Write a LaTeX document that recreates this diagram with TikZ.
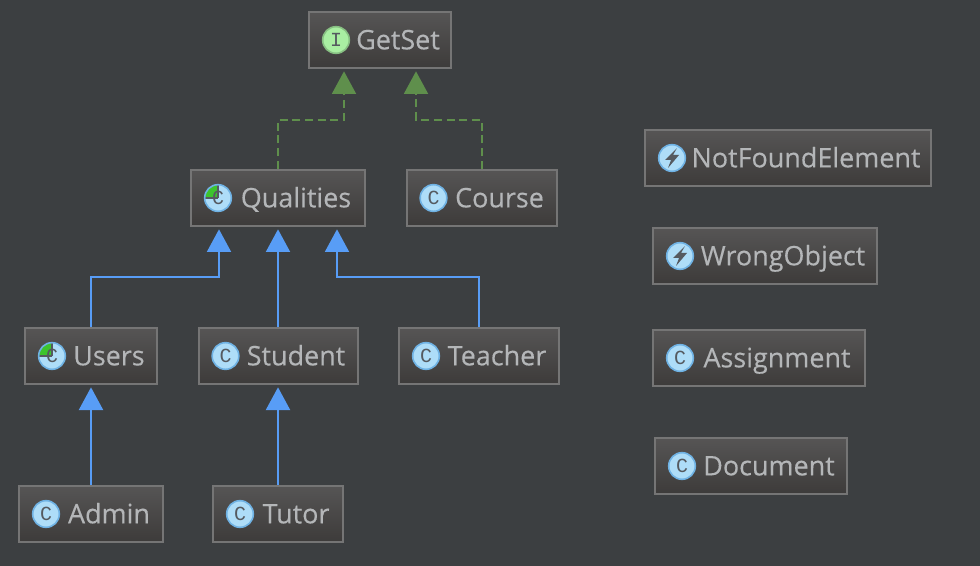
\documentclass[tikz,border=0pt]{standalone}
\usepackage{fontspec}
\setmainfont{Open Sans}
\newfontfamily\boxfont[FakeBold=0.25]{Open Sans}
\newfontfamily\iconfont{Liberation Mono}
\usepackage{xcolor}
\usetikzlibrary{arrows.meta,calc}
\definecolor{ideback}{HTML}{3C3F41}
\definecolor{boxedge}{HTML}{757575}
\definecolor{boxtop}{HTML}{565555}
\definecolor{boxbottom}{HTML}{3D3B3A}
\definecolor{boxtext}{HTML}{B4B6B8}
\definecolor{implgreen}{HTML}{5F8F4C}
\definecolor{extblue}{HTML}{589DF6}
\definecolor{iconblue}{HTML}{AEDDF8}
\definecolor{iconedge}{HTML}{6FB2E4}
\definecolor{icongreen}{HTML}{A9EFA2}
\definecolor{wedgegreen}{HTML}{3DC42D}
\definecolor{icondark}{HTML}{555A60}
\tikzset{
  umlbox/.style={draw=boxedge,line width=1.5pt,top color=boxtop,bottom color=boxbottom,
    text=boxtext,font=\boxfont\fontsize{20.2}{20}\selectfont,minimum height=42.5pt,inner xsep=0pt,
    text height=16.5pt,text depth=2.5pt},
  classicon/.style={circle,draw=iconedge,line width=1.2pt,fill=iconblue,minimum size=20pt,
    inner sep=0pt,text=icondark,font=\iconfont\fontsize{15}{15}\selectfont},
  faceicon/.style={classicon,draw=icongreen!80!black,fill=icongreen},
  abstracticon/.style={classicon,path picture={
    \fill[wedgegreen] (path picture bounding box.center) -- ++(-15,0) -- ++(0,-15) -- ++(15,0) -- cycle;
    \draw[icondark,line width=.8pt] (path picture bounding box.center) -- ++(-15,0);
    \draw[icondark,line width=.8pt] (path picture bounding box.center) -- ++(0,-15);}},
  erroricon/.style={classicon,path picture={
    \fill[icondark,shift={(path picture bounding box.center)}] (5,-10) -- (-7,2) -- (-1,2) -- (-4,10) -- (7,-3) -- (1,-3) -- cycle;}},
  impl/.style={draw=implgreen,line width=1.5pt,dashed,dash pattern=on 6pt off 3.5pt,-{Triangle[width=18pt,length=17pt]}},
  extends/.style={draw=extblue,line width=1.5pt,-{Triangle[width=18pt,length=17pt]}},
}
\begin{document}
\begin{tikzpicture}[x=0.75pt,y=-0.75pt]
  \fill[ideback] (0,0) rectangle (980,566);
  \useasboundingbox (0,0) rectangle (980,566);
  \foreach \name/\x/\y/\w/\lab in {getset/380/40/142/GetSet,qualities/278/198/174/Qualities,course/481.5/198/150/Course,
    users/91/356/132/Users,student/278/356/159/Student,teacher/479/356/160/Teacher,
    admin/91/514/144/Admin,tutor/278/514/130/Tutor,
    notfound/788/158/286/NotFoundElement,wrongobject/765/256/224/WrongObject,
    assignment/759/358/212/Assignment,document/751/466/192/Document}{
    \node[umlbox,minimum width=\w*0.75pt] (\name) at (\x,\y) {\hspace*{27pt}\lab};
  }
  \node[faceicon] (getseticon) at ($(getset.west)+(28,0)$) {I};
  \foreach \name in {qualities,users}{
    \node[abstracticon] (\name icon) at ($(\name.west)+(28,0)$) {C};
  }
  \foreach \name in {course,student,teacher,admin,tutor,assignment,document}{
    \node[classicon] (\name icon) at ($(\name.west)+(28,0)$) {C};
  }
  \foreach \name in {notfound,wrongobject}{
    \node[erroricon] (\name icon) at ($(\name.west)+(28,0)$) {};
  }
  % implements
  \draw[impl] (qualities.north) -- ++(0,-49) -| ($(getset.south)+(-36,2)$);
  \draw[impl] (course.north) -- ++(0,-49) -| ($(getset.south)+(36,2)$);
  % extends
  \draw[extends] (users.north) -- ++(0,-50) -| ($(qualities.south)+(-59,2)$);
  \draw[extends] (student.north) -- ($(qualities.south)+(0,2)$);
  \draw[extends] (teacher.north) -- ++(0,-50) -| ($(qualities.south)+(59,2)$);
  \draw[extends] (admin.north) -- ($(users.south)+(0,2)$);
  \draw[extends] (tutor.north) -- ($(student.south)+(0,2)$);
\end{tikzpicture}
\end{document}
